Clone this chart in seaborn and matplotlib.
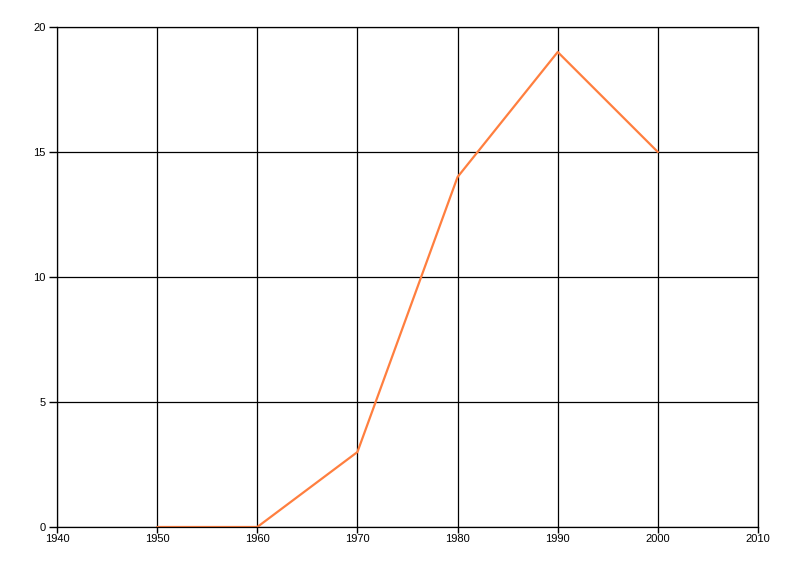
import numpy as np
import pandas as pd
import seaborn as sns
import matplotlib
matplotlib.use("Agg")
import matplotlib.pyplot as plt

# data
years = [1950, 1960, 1970, 1980, 1990, 2000]
values = [0, 0, 3, 14, 19, 15]
x_ticks = [1940, 1950, 1960, 1970, 1980, 1990, 2000, 2010]
y_ticks = [0, 5, 10, 15, 20]

df = pd.DataFrame({"Year": years, "Value": values})

sns.set_theme(style="white")
plt.rcParams["font.family"] = ["Liberation Sans", "DejaVu Sans"]

fig = plt.figure(figsize=(8, 5.76), dpi=100)
ax = fig.add_axes([57 / 800, 1 - 527 / 576, (758 - 57) / 800, (527 - 27) / 576])

sns.lineplot(data=df, x="Year", y="Value", color="#FF7F3F", linewidth=1.6, ax=ax)

ax.set_xlim(1940, 2010)
ax.set_ylim(0, 20)
ax.set_xticks(x_ticks)
ax.set_yticks(y_ticks)
ax.grid(True, color="black", linewidth=0.9)
ax.set_axisbelow(True)
# all four sides drawn as black lines, like the outer grid lines
for side in ["left", "bottom", "top", "right"]:
    ax.spines[side].set_visible(True)
    ax.spines[side].set_color("black")
    ax.spines[side].set_linewidth(0.9)
ax.tick_params(axis="y", length=6, width=1, color="black", labelcolor="black",
               labelsize=8, pad=2, left=True)
ax.tick_params(axis="x", length=4, width=1, color="black", labelcolor="black",
               labelsize=8, pad=1, bottom=True)
ax.set_xlabel("")
ax.set_ylabel("")

plt.savefig("out.png", dpi=100)
plt.close()
